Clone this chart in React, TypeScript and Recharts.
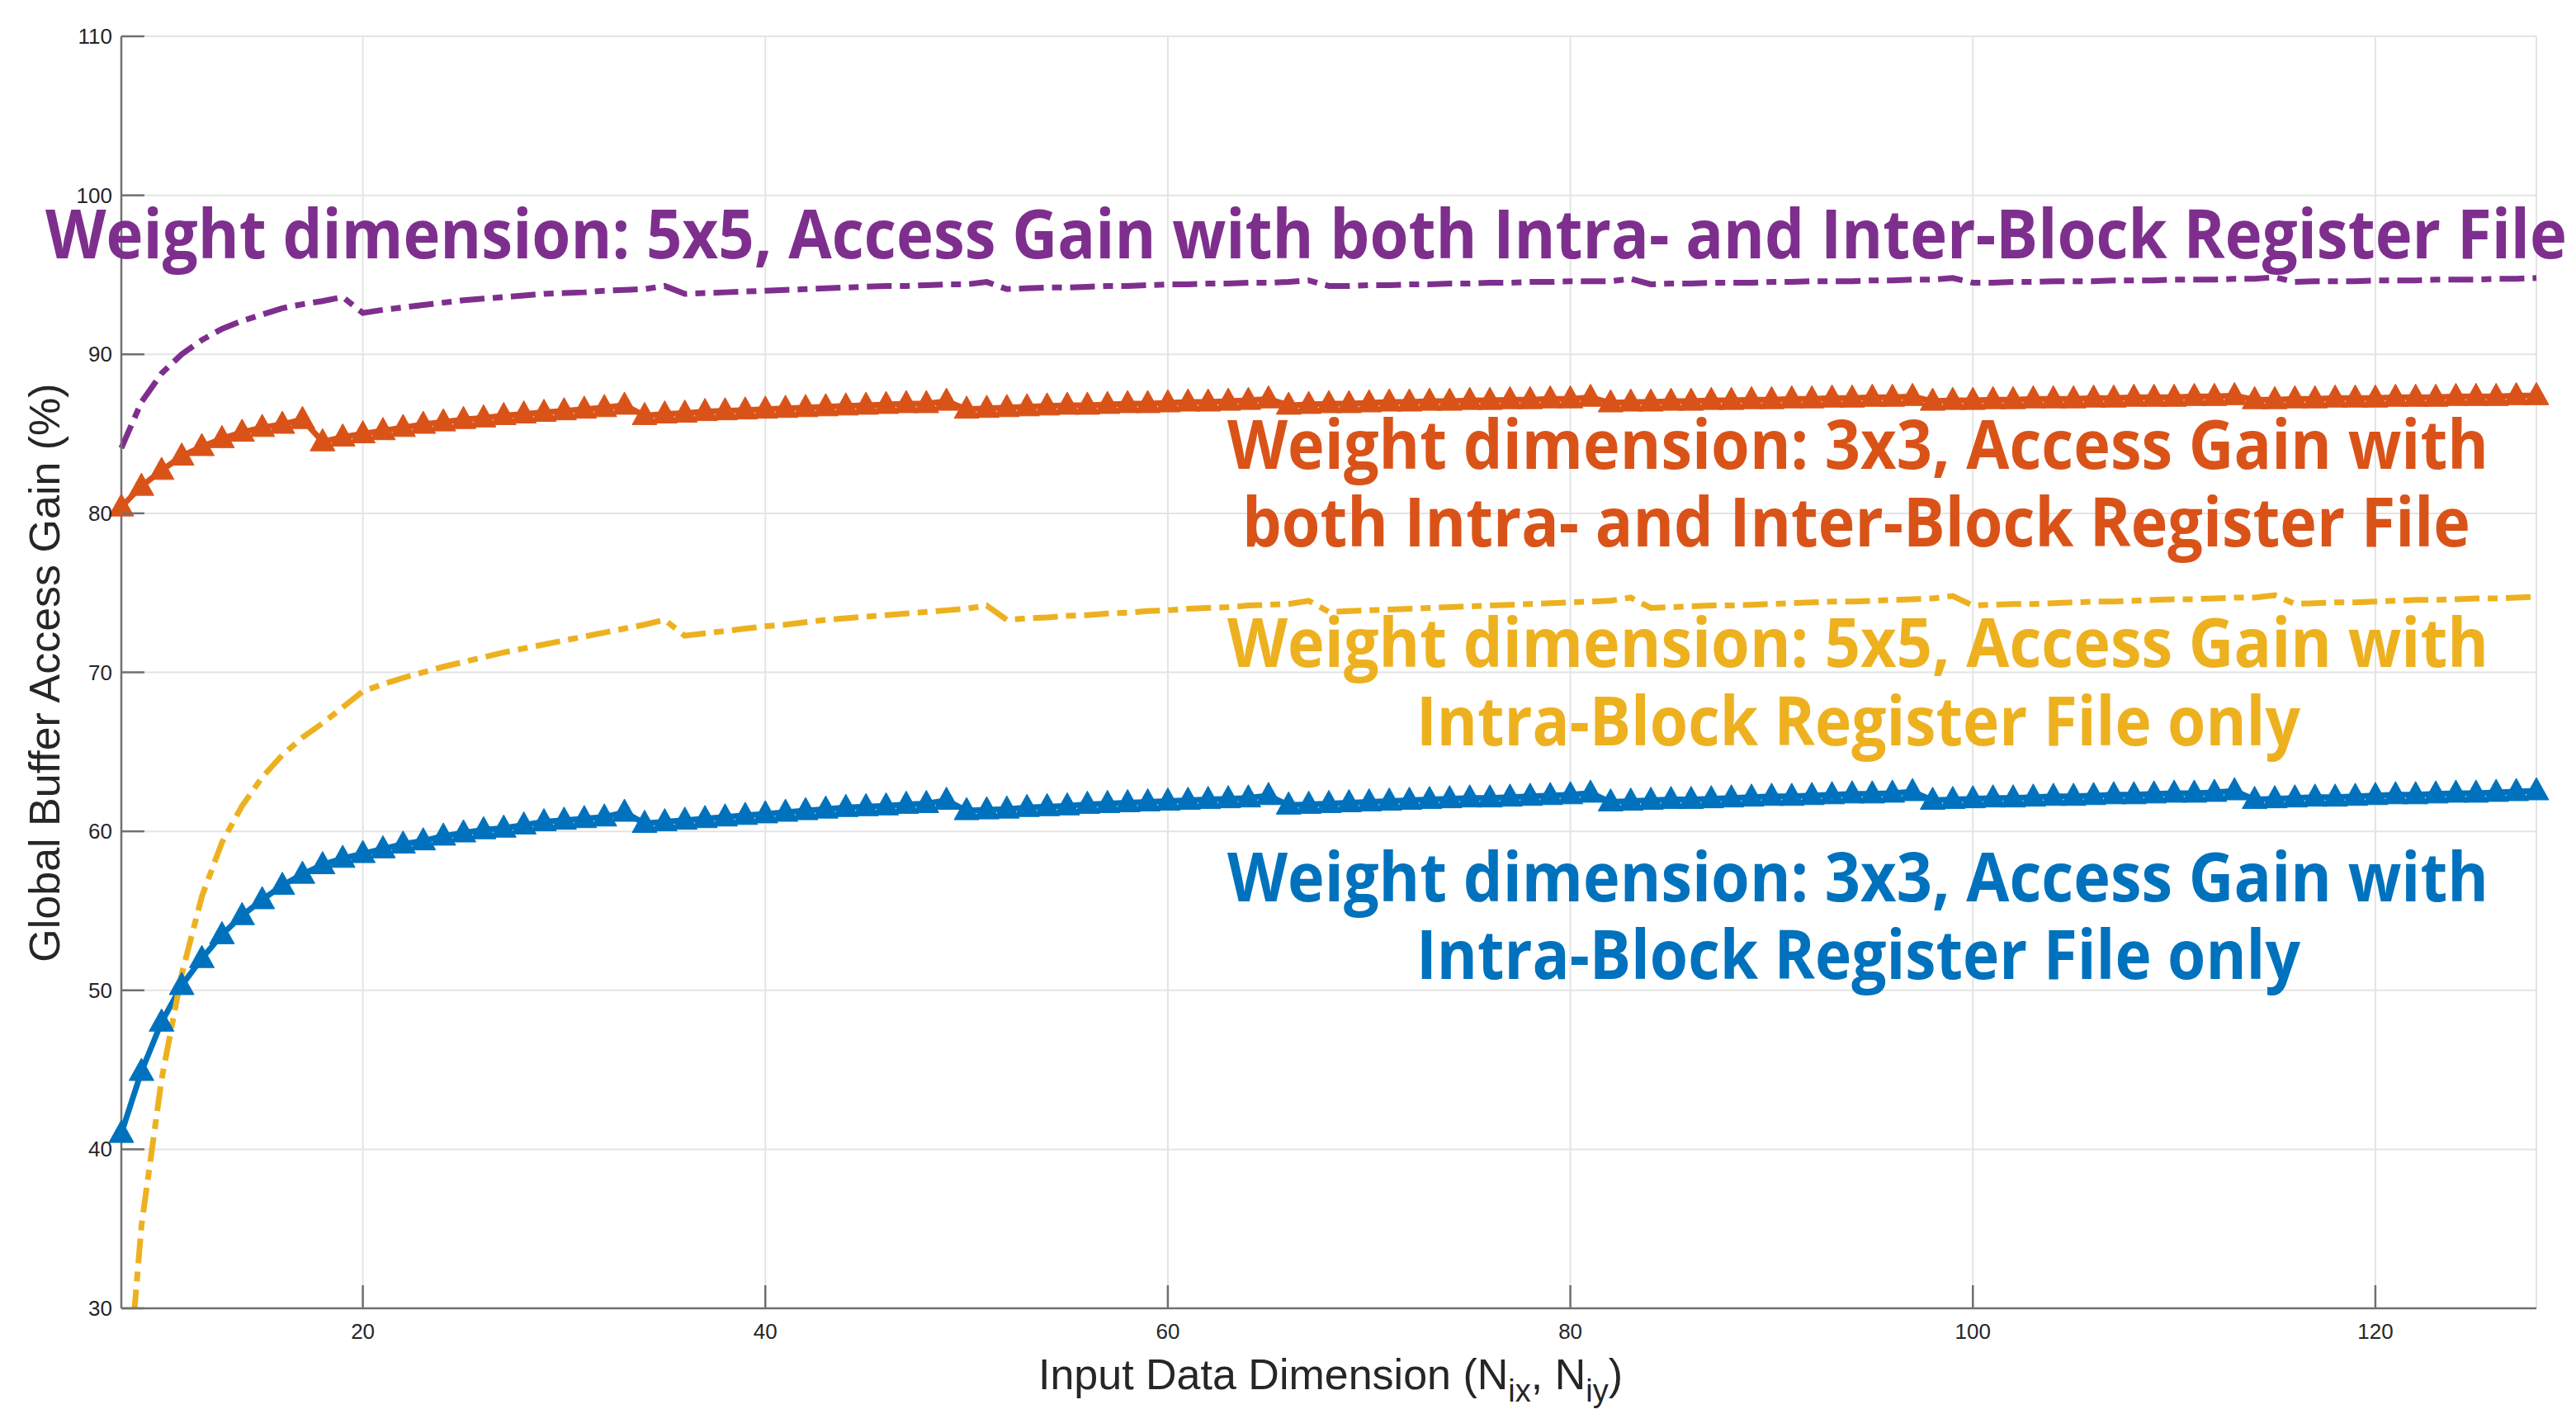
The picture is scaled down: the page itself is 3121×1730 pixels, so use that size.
import React from 'react';
import { LineChart, Line, XAxis, YAxis, CartesianGrid } from 'recharts';

// ---------------- data ----------------
const INPUT_DIM = [
  8, 9, 10, 11, 12, 13, 14, 15, 16, 17,
  18, 19, 20, 21, 22, 23, 24, 25, 26, 27, 28, 29, 30, 31, 32, 33,
  34, 35, 36, 37, 38, 39, 40, 41, 42, 43, 44, 45, 46, 47, 48, 49,
  50, 51, 52, 53, 54, 55, 56, 57, 58, 59, 60, 61, 62, 63, 64, 65,
  66, 67, 68, 69, 70, 71, 72, 73, 74, 75, 76, 77, 78, 79, 80, 81,
  82, 83, 84, 85, 86, 87, 88, 89, 90, 91, 92, 93, 94, 95, 96, 97,
  98, 99, 100, 101, 102, 103, 104, 105, 106, 107, 108, 109, 110, 111, 112, 113,
  114, 115, 116, 117, 118, 119, 120, 121, 122, 123, 124, 125, 126, 127, 128,
];

// Weight 3x3, Intra-Block RF only (blue)
const GAIN_3X3_INTRA = [
  41.0, 44.9, 48.0, 50.3, 52.0, 53.5, 54.7, 55.7, 56.6, 57.3,
  57.9, 58.3, 58.6, 58.9, 59.2, 59.4, 59.7, 59.9, 60.1, 60.2, 60.4, 60.6, 60.7, 60.8, 60.9, 61.2,
  60.5, 60.6, 60.7, 60.8, 60.9, 61.0, 61.1, 61.2, 61.3, 61.4, 61.5, 61.55, 61.6, 61.7, 61.75, 61.95,
  61.3, 61.35, 61.4, 61.5, 61.55, 61.6, 61.7, 61.75, 61.8, 61.85, 61.9, 61.95, 62.0, 62.05, 62.1, 62.25,
  61.65, 61.7, 61.75, 61.8, 61.85, 61.9, 61.95, 62.0, 62.05, 62.1, 62.1, 62.15, 62.2, 62.25, 62.3, 62.4,
  61.85, 61.9, 61.95, 62.0, 62.0, 62.05, 62.1, 62.15, 62.2, 62.2, 62.25, 62.3, 62.35, 62.35, 62.4, 62.5,
  61.95, 62.0, 62.05, 62.1, 62.1, 62.15, 62.2, 62.2, 62.25, 62.3, 62.3, 62.35, 62.4, 62.4, 62.45, 62.55,
  62.0, 62.05, 62.1, 62.15, 62.15, 62.2, 62.25, 62.3, 62.3, 62.35, 62.4, 62.4, 62.45, 62.5, 62.55,
];

// Weight 3x3, both Intra- and Inter-Block RF (orange)
const GAIN_3X3_BOTH = [
  80.4, 81.7, 82.7, 83.6, 84.2, 84.7, 85.1, 85.4, 85.6, 85.9,
  84.5, 84.8, 85.0, 85.2, 85.4, 85.6, 85.75, 85.9, 86.0, 86.15, 86.25, 86.35, 86.45, 86.55, 86.65, 86.8,
  86.15, 86.25, 86.3, 86.4, 86.45, 86.5, 86.55, 86.6, 86.65, 86.7, 86.75, 86.8, 86.85, 86.9, 86.9, 87.05,
  86.55, 86.6, 86.65, 86.7, 86.75, 86.8, 86.8, 86.85, 86.9, 86.9, 86.95, 87.0, 87.0, 87.05, 87.1, 87.2,
  86.8, 86.85, 86.9, 86.9, 86.95, 87.0, 87.0, 87.05, 87.05, 87.1, 87.1, 87.15, 87.15, 87.2, 87.2, 87.3,
  86.95, 87.0, 87.0, 87.05, 87.05, 87.1, 87.1, 87.15, 87.15, 87.2, 87.2, 87.25, 87.25, 87.3, 87.3, 87.35,
  87.05, 87.1, 87.1, 87.15, 87.15, 87.2, 87.2, 87.2, 87.25, 87.25, 87.3, 87.3, 87.3, 87.35, 87.35, 87.4,
  87.15, 87.15, 87.2, 87.2, 87.25, 87.25, 87.25, 87.3, 87.3, 87.3, 87.35, 87.35, 87.35, 87.4, 87.4,
];

// Weight 5x5, Intra-Block RF only (yellow)
const GAIN_5X5_INTRA = [
  20.0, 35.2, 44.4, 51.0, 55.9, 59.3, 61.6, 63.4, 64.8, 65.9,
  66.8, 67.8, 68.8, 69.25, 69.65, 70.0, 70.35, 70.65, 70.95, 71.25, 71.5, 71.75, 72.0, 72.25, 72.5, 72.75,
  73.0, 73.3, 72.3, 72.45, 72.6, 72.75, 72.9, 73.0, 73.15, 73.3, 73.4, 73.5, 73.6, 73.7, 73.8, 73.9,
  74.0, 74.2, 73.3, 73.4, 73.45, 73.55, 73.6, 73.7, 73.75, 73.85, 73.9, 74.0, 74.05, 74.1, 74.2, 74.25,
  74.3, 74.5, 73.8, 73.85, 73.9, 73.95, 74.0, 74.05, 74.1, 74.15, 74.2, 74.25, 74.3, 74.35, 74.4, 74.45,
  74.5, 74.7, 74.05, 74.1, 74.15, 74.2, 74.2, 74.25, 74.3, 74.35, 74.4, 74.45, 74.45, 74.5, 74.55, 74.6,
  74.65, 74.8, 74.2, 74.25, 74.3, 74.3, 74.35, 74.4, 74.45, 74.45, 74.5, 74.55, 74.6, 74.6, 74.65, 74.7,
  74.7, 74.85, 74.3, 74.35, 74.4, 74.4, 74.45, 74.5, 74.55, 74.55, 74.6, 74.65, 74.65, 74.7, 74.75,
];

// Weight 5x5, both Intra- and Inter-Block RF (purple)
const GAIN_5X5_BOTH = [
  84.1, 87.0, 88.8, 90.0, 90.9, 91.6, 92.1, 92.5, 92.9, 93.15,
  93.35, 93.6, 92.6, 92.8, 92.95, 93.1, 93.25, 93.4, 93.5, 93.6, 93.7, 93.8, 93.85, 93.9, 94.0, 94.05,
  94.1, 94.3, 93.8, 93.85, 93.9, 93.95, 94.0, 94.05, 94.1, 94.15, 94.2, 94.25, 94.3, 94.3, 94.35, 94.4,
  94.4, 94.55, 94.1, 94.15, 94.2, 94.2, 94.25, 94.3, 94.3, 94.35, 94.4, 94.4, 94.45, 94.45, 94.5, 94.5,
  94.55, 94.65, 94.3, 94.3, 94.35, 94.35, 94.4, 94.4, 94.45, 94.45, 94.5, 94.5, 94.55, 94.55, 94.6, 94.6,
  94.6, 94.75, 94.4, 94.45, 94.45, 94.5, 94.5, 94.5, 94.55, 94.55, 94.6, 94.6, 94.6, 94.65, 94.65, 94.7,
  94.7, 94.8, 94.5, 94.5, 94.55, 94.55, 94.6, 94.6, 94.6, 94.65, 94.65, 94.65, 94.7, 94.7, 94.7, 94.75,
  94.75, 94.85, 94.55, 94.6, 94.6, 94.6, 94.65, 94.65, 94.65, 94.7, 94.7, 94.7, 94.75, 94.75, 94.8,
];

const X_TICKS = [20, 40, 60, 80, 100, 120];
const Y_TICKS = [30, 40, 50, 60, 70, 80, 90, 100, 110];
const X_DOMAIN: [number, number] = [8, 128];
const Y_DOMAIN: [number, number] = [30, 110];

const X_LABEL_MAIN = 'Input Data Dimension (N';
const X_LABEL_SUB1 = 'ix';
const X_LABEL_MID = ', N';
const X_LABEL_SUB2 = 'iy';
const X_LABEL_END = ')';
const Y_LABEL = 'Global Buffer Access Gain (%)';

const LABEL_5X5_BOTH = 'Weight dimension: 5x5, Access Gain with both Intra- and Inter-Block Register File';
const LABEL_3X3_BOTH_1 = 'Weight dimension: 3x3, Access Gain with';
const LABEL_3X3_BOTH_2 = 'both Intra- and Inter-Block Register File';
const LABEL_5X5_INTRA_1 = 'Weight dimension: 5x5, Access Gain with';
const LABEL_5X5_INTRA_2 = 'Intra-Block Register File only';
const LABEL_3X3_INTRA_1 = 'Weight dimension: 3x3, Access Gain with';
const LABEL_3X3_INTRA_2 = 'Intra-Block Register File only';

// ---------------- style / layout ----------------
const W = 3121;
const H = 1730;
const BLUE = '#0072BD';
const ORANGE = '#D95319';
const YELLOW = '#EDB120';
const PURPLE = '#7E2F8E';
const AXIS_COLOR = '#707070';
const TEXT_COLOR = '#262626';
const GRID_COLOR = '#e4e4e4';
const TICK_LEN = 28;
const TICK_FONT = 26;
const AX_FONT = '"Liberation Sans", Arial, Helvetica, sans-serif';
const ANNOT_FONT = '"Open Sans", "Noto Sans", sans-serif';
const ANNOT_SIZE = 82;
const LINE_W = 7;
const DASH_DOT = '30 10 12 10';

const MARGIN = { top: 44, right: 48, left: 67, bottom: 85 };
const Y_AXIS_W = 80;
const X_AXIS_H = 60;
const PLOT_LEFT = MARGIN.left + Y_AXIS_W;
const PLOT_RIGHT = W - MARGIN.right;
const PLOT_TOP = MARGIN.top;
const PLOT_BOTTOM = H - MARGIN.bottom - X_AXIS_H;

const data = INPUT_DIM.map((x, i) => ({
  x,
  g3i: GAIN_3X3_INTRA[i],
  g3b: GAIN_3X3_BOTH[i],
  g5i: GAIN_5X5_INTRA[i],
  g5b: GAIN_5X5_BOTH[i],
}));

const LeftTick = (props: any) => {
  const { y, payload } = props;
  const x = PLOT_LEFT;
  return (
    <g>
      <line x1={x} y1={y} x2={x + TICK_LEN} y2={y} stroke={AXIS_COLOR} strokeWidth={2.5} />
      <text
        x={x - 11}
        y={y}
        textAnchor="end"
        dominantBaseline="central"
        fontFamily={AX_FONT}
        fontSize={TICK_FONT}
        fill={TEXT_COLOR}
      >
        {payload.value}
      </text>
    </g>
  );
};

const RightTick = (props: any) => {
  const { y } = props;
  const x = PLOT_RIGHT;
  return <line x1={x} y1={y} x2={x - TICK_LEN} y2={y} stroke={AXIS_COLOR} strokeWidth={2.5} />;
};

const BottomTick = (props: any) => {
  const { x, payload } = props;
  const y = PLOT_BOTTOM;
  return (
    <g>
      <line x1={x} y1={y} x2={x} y2={y - TICK_LEN} stroke={AXIS_COLOR} strokeWidth={2.5} />
      <text
        x={x}
        y={y + 37}
        textAnchor="middle"
        fontFamily={AX_FONT}
        fontSize={TICK_FONT}
        fill={TEXT_COLOR}
      >
        {payload.value}
      </text>
    </g>
  );
};

const TopTick = (props: any) => {
  const { x } = props;
  const y = PLOT_TOP;
  return <line x1={x} y1={y} x2={x} y2={y + TICK_LEN} stroke={AXIS_COLOR} strokeWidth={2.5} />;
};

const triangleDot = (color: string) => (props: any) => {
  const { cx, cy, index } = props;
  if (cx == null || cy == null) return <g key={`e-${index}`} />;
  return (
    <path
      key={`t-${index}`}
      d={`M${cx},${cy - 16}L${cx + 15},${cy + 11}L${cx - 15},${cy + 11}Z`}
      fill={color}
      stroke={color}
      strokeWidth={1}
    />
  );
};

const ANNOTATIONS = [
  { text: LABEL_5X5_BOTH, color: PURPLE, x: 55, y: 313, len: 3055 },
  { text: LABEL_3X3_BOTH_1, color: ORANGE, x: 1487, y: 568, len: 1528 },
  { text: LABEL_3X3_BOTH_2, color: ORANGE, x: 1505, y: 662, len: 1488 },
  { text: LABEL_5X5_INTRA_1, color: YELLOW, x: 1487, y: 808, len: 1528 },
  { text: LABEL_5X5_INTRA_2, color: YELLOW, x: 1716, y: 903, len: 1071 },
  { text: LABEL_3X3_INTRA_1, color: BLUE, x: 1487, y: 1092, len: 1528 },
  { text: LABEL_3X3_INTRA_2, color: BLUE, x: 1716, y: 1186, len: 1071 },
];

export default function App() {
  return (
    <div style={{ position: 'absolute', left: 0, top: 0, width: W, height: H, background: '#ffffff' }}>
      <LineChart width={W} height={H} data={data} margin={MARGIN}>
        <CartesianGrid xAxisId="b" yAxisId="l" stroke={GRID_COLOR} strokeWidth={2} />
        <XAxis
          xAxisId="b"
          type="number"
          dataKey="x"
          domain={X_DOMAIN}
          ticks={X_TICKS}
          interval={0}
          height={X_AXIS_H}
          orientation="bottom"
          tickSize={0}
          tickMargin={0}
          tickLine={false}
          axisLine={{ stroke: AXIS_COLOR, strokeWidth: 2.5 }}
          tick={<BottomTick />}
        />
        <XAxis
          xAxisId="t"
          type="number"
          dataKey="x"
          domain={X_DOMAIN}
          ticks={X_TICKS}
          interval={0}
          height={0}
          orientation="top"
          tickSize={0}
          tickMargin={0}
          tickLine={false}
          axisLine={{ stroke: AXIS_COLOR, strokeWidth: 2.5 }}
          tick={<TopTick />}
        />
        <YAxis
          yAxisId="l"
          type="number"
          domain={Y_DOMAIN}
          ticks={Y_TICKS}
          interval={0}
          width={Y_AXIS_W}
          orientation="left"
          tickSize={0}
          tickMargin={0}
          tickLine={false}
          axisLine={{ stroke: AXIS_COLOR, strokeWidth: 2.5 }}
          tick={<LeftTick />}
        />
        <YAxis
          yAxisId="r"
          type="number"
          domain={Y_DOMAIN}
          ticks={Y_TICKS}
          interval={0}
          width={0}
          orientation="right"
          tickSize={0}
          tickMargin={0}
          tickLine={false}
          axisLine={{ stroke: AXIS_COLOR, strokeWidth: 2.5 }}
          tick={<RightTick />}
        />
        <YAxis
          yAxisId="clip"
          type="number"
          domain={Y_DOMAIN}
          allowDataOverflow
          hide
          width={0}
          orientation="right"
        />
        <Line
          xAxisId="b"
          yAxisId="l"
          type="linear"
          dataKey="g3i"
          stroke={BLUE}
          strokeWidth={LINE_W}
          dot={triangleDot(BLUE)}
          activeDot={false}
          isAnimationActive={false}
        />
        <Line
          xAxisId="b"
          yAxisId="l"
          type="linear"
          dataKey="g3b"
          stroke={ORANGE}
          strokeWidth={LINE_W}
          dot={triangleDot(ORANGE)}
          activeDot={false}
          isAnimationActive={false}
        />
        <Line
          xAxisId="b"
          yAxisId="clip"
          type="linear"
          dataKey="g5i"
          stroke={YELLOW}
          strokeWidth={LINE_W}
          strokeDasharray={DASH_DOT}
          dot={false}
          activeDot={false}
          isAnimationActive={false}
        />
        <Line
          xAxisId="b"
          yAxisId="l"
          type="linear"
          dataKey="g5b"
          stroke={PURPLE}
          strokeWidth={LINE_W}
          strokeDasharray={DASH_DOT}
          dot={false}
          activeDot={false}
          isAnimationActive={false}
        />
      </LineChart>
      <svg
        width={W}
        height={H}
        style={{ position: 'absolute', left: 0, top: 0, pointerEvents: 'none' }}
      >
        {ANNOTATIONS.map((a, i) => (
          <text
            key={i}
            x={a.x}
            y={a.y}
            textLength={a.len}
            lengthAdjust="spacingAndGlyphs"
            fontFamily={ANNOT_FONT}
            fontWeight={700}
            fontSize={ANNOT_SIZE}
            fill={a.color}
          >
            {a.text}
          </text>
        ))}
        <text
          x={1612}
          y={1683}
          textAnchor="middle"
          fontFamily={AX_FONT}
          fontSize={52}
          fill={TEXT_COLOR}
        >
          {X_LABEL_MAIN}
          <tspan fontSize={38} dy={15}>{X_LABEL_SUB1}</tspan>
          <tspan fontSize={52} dy={-15}>{X_LABEL_MID}</tspan>
          <tspan fontSize={38} dy={15}>{X_LABEL_SUB2}</tspan>
          <tspan fontSize={52} dy={-15}>{X_LABEL_END}</tspan>
        </text>
        <text
          transform="translate(72,815) rotate(-90)"
          textAnchor="middle"
          fontFamily={AX_FONT}
          fontSize={52}
          fill={TEXT_COLOR}
        >
          {Y_LABEL}
        </text>
      </svg>
    </div>
  );
}
